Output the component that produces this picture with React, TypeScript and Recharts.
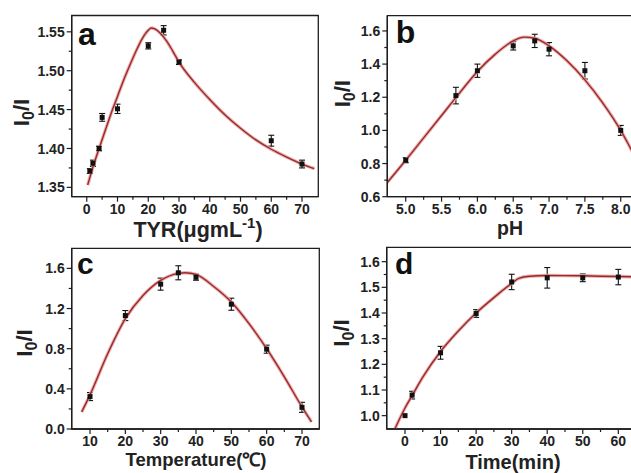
import React from 'react';
import { ComposedChart, XAxis, YAxis, Line, Scatter, ErrorBar, ReferenceArea, Label } from 'recharts';

// ---------- Panel a : TYR concentration ----------
const aX = [1, 2, 4, 5, 10, 20, 25, 30, 60, 70];
const aY = [1.371, 1.381, 1.4, 1.44, 1.451, 1.532, 1.552, 1.511, 1.41, 1.38];
const aErr = [0.003, 0.004, 0.003, 0.005, 0.006, 0.004, 0.006, 0.003, 0.007, 0.005];
const aFitX = [0.3, 2, 4, 6, 8, 10, 12, 14, 16, 18, 20, 21, 22, 24, 26, 28, 30, 35, 40, 45, 50, 55, 60, 65, 70, 74];
const aFitY = [1.353, 1.376, 1.4, 1.423, 1.446, 1.467, 1.488, 1.507, 1.525, 1.541, 1.552, 1.555, 1.554, 1.548, 1.538, 1.525, 1.511, 1.485, 1.463, 1.443, 1.426, 1.411, 1.399, 1.389, 1.38, 1.374];
const aXMajor = [0, 10, 20, 30, 40, 50, 60, 70];
const aXMinor = [5, 15, 25, 35, 45, 55, 65];
const aYMajor = [1.35, 1.4, 1.45, 1.5, 1.55];
const aYMinor = [1.375, 1.425, 1.475, 1.525];

// ---------- Panel b : pH ----------
const bX = [5.0, 5.7, 6.0, 6.5, 6.8, 7.0, 7.5, 8.0];
const bY = [0.82, 1.21, 1.36, 1.51, 1.54, 1.49, 1.36, 1.0];
const bErr = [0.015, 0.05, 0.04, 0.025, 0.04, 0.04, 0.05, 0.03];
const bFitX = [4.74, 5.0, 5.25, 5.5, 5.75, 6.0, 6.25, 6.5, 6.65, 6.8, 7.0, 7.25, 7.5, 7.75, 8.0, 8.14, 8.27];
const bFitY = [0.684, 0.82, 0.955, 1.09, 1.225, 1.355, 1.46, 1.54, 1.563, 1.556, 1.51, 1.42, 1.305, 1.165, 1.0, 0.89, 0.785];
const bXMajor = [5.0, 5.5, 6.0, 6.5, 7.0, 7.5, 8.0];
const bXMinor = [5.25, 5.75, 6.25, 6.75, 7.25, 7.75, 8.25];
const bYMajor = [0.6, 0.8, 1.0, 1.2, 1.4, 1.6];
const bYMinor = [0.7, 0.9, 1.1, 1.3, 1.5];

// ---------- Panel c : Temperature ----------
const cX = [10, 20, 30, 35, 40, 50, 60, 70];
const cY = [0.323, 1.13, 1.443, 1.556, 1.512, 1.243, 0.795, 0.216];
const cErr = [0.04, 0.05, 0.06, 0.07, 0.03, 0.06, 0.04, 0.05];
const cFitX = [7.65, 10, 15, 20, 25, 30, 35, 37, 40, 45, 50, 55, 60, 65, 70, 72.7];
const cFitY = [0.17, 0.34, 0.75, 1.1, 1.33, 1.48, 1.55, 1.557, 1.54, 1.42, 1.265, 1.05, 0.8, 0.52, 0.22, 0.07];
const cXMajor = [10, 20, 30, 40, 50, 60, 70];
const cXMinor = [15, 25, 35, 45, 55, 65];
const cYMajor = [0, 0.4, 0.8, 1.2, 1.6];
const cYMinor = [0.2, 0.6, 1.0, 1.4];

// ---------- Panel d : Time ----------
const dX = [0, 2, 10, 20, 30, 40, 50, 60];
const dY = [1.0, 1.08, 1.245, 1.398, 1.521, 1.537, 1.537, 1.54];
const dErr = [0, 0.015, 0.025, 0.015, 0.03, 0.04, 0.015, 0.03];
const dFitX = [-2.8, 0, 2, 5, 10, 15, 20, 25, 30, 32, 35, 40, 50, 60, 66];
const dFitY = [0.95, 1.03, 1.078, 1.15, 1.25, 1.33, 1.4, 1.46, 1.515, 1.535, 1.543, 1.546, 1.545, 1.542, 1.541];
const dXMajor = [0, 10, 20, 30, 40, 50, 60];
const dXMinor = [5, 15, 25, 35, 45, 55, 65];
const dYMajor = [1.0, 1.1, 1.2, 1.3, 1.4, 1.5, 1.6];
const dYMinor = [1.05, 1.15, 1.25, 1.35, 1.45, 1.55];

const FONT = "'Liberation Sans', Arial, Helvetica, sans-serif";
const AXIS = '#1e1e1e';
const TEXT = '#222';
const TICK_SIZE = 5;
const TICK_MARGIN = 2;
const TICK_FS = 14;

const isIn = (list: number[], v: number) => list.some((m) => Math.abs(m - v) < 1e-9);

function makeXTick(majors: number[], fmt: (v: number) => string) {
  return (props: any) => {
    const { x, y, payload } = props;
    const v = payload.value;
    const major = isIn(majors, v);
    const axisY = y - TICK_SIZE - TICK_MARGIN;
    return (
      <g>
        <line x1={x} x2={x} y1={axisY} y2={axisY + (major ? 5 : 3)} stroke={AXIS} strokeWidth={1.2} />
        {major && (
          <text x={x} y={y} dy="0.72em" textAnchor="middle" fontFamily={FONT} fontWeight="bold" fontSize={TICK_FS} fill={TEXT}>
            {fmt(v)}
          </text>
        )}
      </g>
    );
  };
}

function makeYTick(majors: number[], fmt: (v: number) => string) {
  return (props: any) => {
    const { x, y, payload } = props;
    const v = payload.value;
    const major = isIn(majors, v);
    const axisX = x + TICK_SIZE + TICK_MARGIN;
    return (
      <g>
        <line x1={axisX} x2={axisX - (major ? 5 : 3)} y1={y} y2={y} stroke={AXIS} strokeWidth={1.2} />
        {major && (
          <text x={x} y={y} dy="0.36em" textAnchor="end" fontFamily={FONT} fontWeight="bold" fontSize={TICK_FS} fill={TEXT}>
            {fmt(v)}
          </text>
        )}
      </g>
    );
  };
}

const Square = (props: any) => {
  const { cx, cy } = props;
  if (cx == null || cy == null) return null;
  return <rect x={cx - 2.5} y={cy - 2.5} width={5} height={5} fill="#111" />;
};

type Cfg = {
  left: number; top: number; width: number; height: number;
  mTop: number; mRight: number; yAxisW: number; xAxisH: number;
  xDomain: [number, number]; yDomain: [number, number];
  xMajor: number[]; xMinor: number[]; yMajor: number[]; yMinor: number[];
  xFmt: (v: number) => string; yFmt: (v: number) => string;
  px: number[]; py: number[]; pe: number[]; fx: number[]; fy: number[];
  letter: string; letterPos: [number, number, number];
  yLabelPos: [number, number];
  xLabel: (x: number, y: number) => React.ReactNode; xLabelPos: [number, number];
};

function Panel(c: Cfg) {
  const pts = c.px.map((x, i) => ({ x, y: c.py[i], e: c.pe[i] }));
  const fit = c.fx.map((x, i) => ({ x, y: c.fy[i] }));
  const xTicks = [...c.xMajor, ...c.xMinor].sort((a, b) => a - b);
  const yTicks = [...c.yMajor, ...c.yMinor].sort((a, b) => a - b);
  const xLabelContent = (props: any) => {
    const vb = props.viewBox;
    return c.xLabel(vb.x + c.xLabelPos[0], vb.y + c.xLabelPos[1]);
  };
  const yLabelContent = (props: any) => {
    const vb = props.viewBox;
    const lx = vb.x + c.yLabelPos[0];
    const ly = vb.y + c.yLabelPos[1];
    return (
      <text x={lx} y={ly} textAnchor="middle" transform={`rotate(-90, ${lx}, ${ly})`} fontFamily={FONT} fontWeight="bold" fontSize={22} fill={TEXT}>
        I<tspan fontSize={16} dy={5}>0</tspan>
        <tspan dy={-5}>/I</tspan>
      </text>
    );
  };
  const letterContent = (props: any) => {
    const vb = props.viewBox;
    return (
      <text x={vb.x + c.letterPos[0]} y={vb.y + c.letterPos[1]} fontFamily={FONT} fontWeight="bold" fontSize={c.letterPos[2]} fill="#111">
        {c.letter}
      </text>
    );
  };
  return (
    <div style={{ position: 'absolute', left: c.left, top: c.top, width: c.width, height: c.height }}>
      <ComposedChart width={c.width} height={c.height} margin={{ top: c.mTop, right: c.mRight, left: 0, bottom: 0 }}>
        <XAxis
          type="number" dataKey="x" domain={c.xDomain} allowDataOverflow ticks={xTicks} interval={0}
          tickSize={TICK_SIZE} tickMargin={TICK_MARGIN} tickLine={false} tick={makeXTick(c.xMajor, c.xFmt)}
          height={c.xAxisH} axisLine={{ stroke: AXIS, strokeWidth: 1.3 }}
          label={<Label content={xLabelContent} />}
        />
        <YAxis
          type="number" dataKey="y" domain={c.yDomain} allowDataOverflow ticks={yTicks} interval={0}
          tickSize={TICK_SIZE} tickMargin={TICK_MARGIN} tickLine={false} tick={makeYTick(c.yMajor, c.yFmt)}
          width={c.yAxisW} axisLine={{ stroke: AXIS, strokeWidth: 1.3 }}
          label={<Label content={yLabelContent} />}
        />
        <ReferenceArea
          x1={c.xDomain[0]} x2={c.xDomain[1]} y1={c.yDomain[0]} y2={c.yDomain[1]}
          fill="none" stroke={AXIS} strokeWidth={1.3} ifOverflow="visible"
          label={<Label content={letterContent} />}
        />
        <Scatter data={pts} shape={Square} isAnimationActive={false}>
          <ErrorBar dataKey="e" direction="y" width={3} stroke="#111" strokeWidth={1.1} />
        </Scatter>
        <Line data={fit} dataKey="y" type="monotone" stroke="#e8a2a2" strokeOpacity={0.85} strokeWidth={3.4} dot={false} activeDot={false} isAnimationActive={false} />
        <Line data={fit} dataKey="y" type="monotone" stroke="#9a2a2a" strokeWidth={1.4} dot={false} activeDot={false} isAnimationActive={false} />
      </ComposedChart>
    </div>
  );
}

const int = (v: number) => String(Math.round(v));
const f1 = (v: number) => v.toFixed(1);
const f2 = (v: number) => v.toFixed(2);

const labelText = (size: number) => ({ fontFamily: FONT, fontWeight: 'bold' as const, fontSize: size, fill: TEXT, textAnchor: 'middle' as const });

export default function App() {
  return (
    <div style={{ position: 'absolute', left: 0, top: 0, width: 631, height: 473, overflow: 'hidden', background: '#fff' }}>
      <Panel
        left={0} top={0} width={330} height={245} mTop={15.5} mRight={11.7} yAxisW={71.7} xAxisH={48.3}
        xDomain={[-4.9, 75.3]} yDomain={[1.338, 1.571]}
        xMajor={aXMajor} xMinor={aXMinor} yMajor={aYMajor} yMinor={aYMinor} xFmt={int} yFmt={f2}
        px={aX} py={aY} pe={aErr} fx={aFitX} fy={aFitY}
        letter="a" letterPos={[6.3, 29.5, 32]} yLabelPos={[29, 97]}
        xLabel={(x, y) => (
          <text x={x} y={y} {...labelText(21.5)}>
            TYR(μgmL<tspan fontSize={15} dy={-9}>-1</tspan><tspan dy={9}>)</tspan>
          </text>
        )}
        xLabelPos={[126.3, 39.8]}
      />
      <Panel
        left={310} top={0} width={340} height={245} mTop={15.7} mRight={10} yAxisW={77.3} xAxisH={48.3}
        xDomain={[4.743, 8.269]} yDomain={[0.6, 1.692]}
        xMajor={bXMajor} xMinor={bXMinor} yMajor={bYMajor} yMinor={bYMinor} xFmt={f1} yFmt={f1}
        px={bX} py={bY} pe={bErr} fx={bFitX} fy={bFitY}
        letter="b" letterPos={[8.4, 27.6, 32]} yLabelPos={[40, 78]}
        xLabel={(x, y) => (
          <text x={x} y={y} {...labelText(19.5)}>pH</text>
        )}
        xLabelPos={[122.7, 38.3]}
      />
      <Panel
        left={0} top={235} width={330} height={238} mTop={13.3} mRight={10.7} yAxisW={71.7} xAxisH={44}
        xDomain={[4.82, 74.9]} yDomain={[0, 1.8]}
        xMajor={cXMajor} xMinor={cXMinor} yMajor={cYMajor} yMinor={cYMinor} xFmt={int} yFmt={f1}
        px={cX} py={cY} pe={cErr} fx={cFitX} fy={cFitY}
        letter="c" letterPos={[5.3, 25.7, 30]} yLabelPos={[31.5, 94.7]}
        xLabel={(x, y) => (
          <text x={x} y={y} {...labelText(18.5)}>Temperature(℃)</text>
        )}
        xLabelPos={[124.3, 37]}
      />
      <Panel
        left={310} top={235} width={340} height={238} mTop={12.3} mRight={10} yAxisW={76.7} xAxisH={44}
        xDomain={[-5.15, 66.1]} yDomain={[0.948, 1.656]}
        xMajor={dXMajor} xMinor={dXMinor} yMajor={dYMajor} yMinor={dYMinor} xFmt={int} yFmt={f1}
        px={dX} py={dY} pe={dErr} fx={dFitX} fy={dFitY}
        letter="d" letterPos={[8.3, 26.7, 30]} yLabelPos={[39, 85.7]}
        xLabel={(x, y) => (
          <text x={x} y={y} {...labelText(20)}>Time(min)</text>
        )}
        xLabelPos={[126.3, 40.3]}
      />
    </div>
  );
}
